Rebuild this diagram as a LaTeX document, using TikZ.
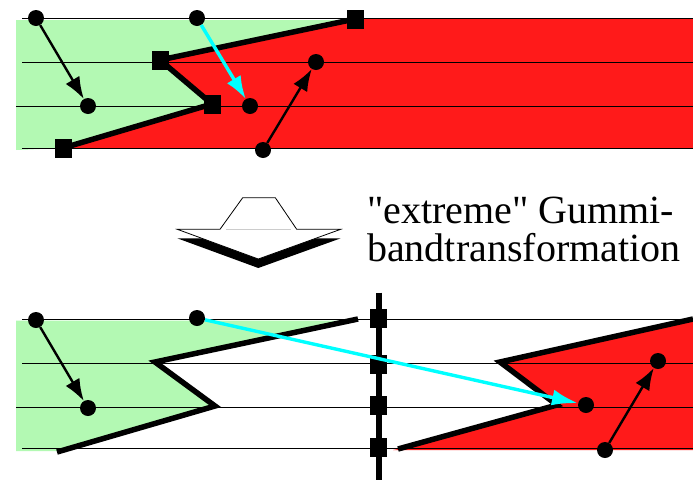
\documentclass[tikz,border=0pt]{standalone}
\usepackage{fontspec}
\setmainfont{Liberation Serif}[Ligatures=TeXOff]
\usetikzlibrary{arrows.meta}
\definecolor{lgreen}{RGB}{179,249,179}
\definecolor{bred}{RGB}{255,26,26}
\definecolor{pcyan}{RGB}{0,255,255}
\begin{document}
\begin{tikzpicture}[x=1pt,y=-1pt,
  dot/.style={circle,fill=black,minimum size=16pt,inner sep=0pt},
  sq/.style={rectangle,fill=black,minimum width=17pt,minimum height=19pt,inner sep=0pt},
  band/.style={line width=5.5pt,line join=miter},
  ln/.style={line width=0.9pt},
  blk/.style={line width=2.4pt,-{Latex[length=22pt,width=16pt]}},
  cy/.style={pcyan,line width=3.4pt,-{Latex[length=23pt,width=16pt]}},
  lbl/.style={anchor=base west,inner sep=0pt,font=\fontsize{40}{40}\selectfont}
]
\useasboundingbox (0,0) rectangle (693,480);

% ---------- top panel ----------
\fill[lgreen] (16,20) -- (352,20) -- (160,60) -- (212,104) -- (63,148) -- (16,150) -- cycle;
\fill[bred] (355,18) -- (693,18) -- (693,148) -- (63,148) -- (212,104) -- (160,60) -- cycle;
\draw[ln] (22,18.5) -- (693,18.5);
\draw[ln] (22,62) -- (693,62);
\draw[ln] (16,106) -- (693,106);
\draw[ln] (22,148) -- (693,148);

\node[sq] (s1) at (63,148) {};
\node[sq] (s2) at (212,104) {};
\node[sq] (s3) at (160,60) {};
\node[sq] (s4) at (355,19) {};
\draw[band] (s1.center) -- (s2.center) -- (s3.center) -- (s4.center);

\node[dot] (a1) at (36,18) {};
\node[dot] (a2) at (88,106) {};
\node[dot] (a3) at (197,18) {};
\node[dot] (a4) at (250,106) {};
\node[dot] (a5) at (316,62) {};
\node[dot] (a6) at (263,150) {};
\draw[blk] (a1) -- (a2);
\draw[cy] (a3) -- (a4);
\draw[blk] (a6) -- (a5);

% ---------- middle arrow symbol ----------
\fill[black] (242.7,206.7) -- (275.3,206.7) -- (296.7,238.3) -- (340.7,238.3) -- (258.3,268) -- (177.3,238.3) -- (220,238.3) -- cycle;
\draw[fill=white,line width=0.8pt,line join=miter] (242.7,197.7) -- (275.3,197.7) -- (296.7,229.3) -- (340.7,229.3) -- (258.3,259) -- (177.3,229.3) -- (220,229.3) -- cycle;
\draw[gray!40,line width=0.8pt] (226,229.6) -- (291,229.6);

\node[lbl] (t1) at (367,223.3) {"extreme" Gummi-};
\node[lbl] (t2) at (367,261.7) {bandtransformation};

% ---------- bottom panel ----------
\fill[lgreen] (16,320.5) -- (348,320.5) -- (155,362) -- (215,406) -- (57,451) -- (16,451) -- cycle;
\fill[bred] (693,319) -- (500,362) -- (557,405) -- (398,449) -- (393,450) -- (693,450) -- cycle;
\draw[ln] (22,319) -- (693,319);
\draw[ln] (22,363) -- (693,363);
\draw[ln] (16,407) -- (693,407);
\draw[ln] (22,448) -- (693,448);

\coordinate (l1) at (57,452);
\coordinate (l2) at (215,406);
\coordinate (l3) at (155,362);
\coordinate (l4) at (358,319);
\draw[band] (l1) -- (l2) -- (l3) -- (l4);

\coordinate (r1) at (398,449);
\coordinate (r2) at (557,405);
\coordinate (r3) at (500,362);
\coordinate (r4) at (693,319);
\draw[band] (r1) -- (r2) -- (r3) -- (r4);

\coordinate (vt) at (379,292.5);
\coordinate (vb) at (379,480);
\draw[line width=6.5pt] (vt) -- (vb);
\node[sq] (q1) at (378,318) {};
\node[sq] (q2) at (378,364) {};
\node[sq] (q3) at (378,405) {};
\node[sq] (q4) at (378,447) {};

\node[dot] (b1) at (36,320) {};
\node[dot] (b2) at (88,408) {};
\node[dot] (b3) at (197,318) {};
\node[dot] (b4) at (586,405) {};
\node[dot] (b5) at (658,361) {};
\node[dot] (b6) at (605,450) {};
\draw[blk] (b1) -- (b2);
\draw[pcyan,line width=3.4pt,-{Latex[length=26pt,width=16pt]}] (b3) -- (b4);
\draw[blk] (b6) -- (b5);
\end{tikzpicture}
\end{document}
